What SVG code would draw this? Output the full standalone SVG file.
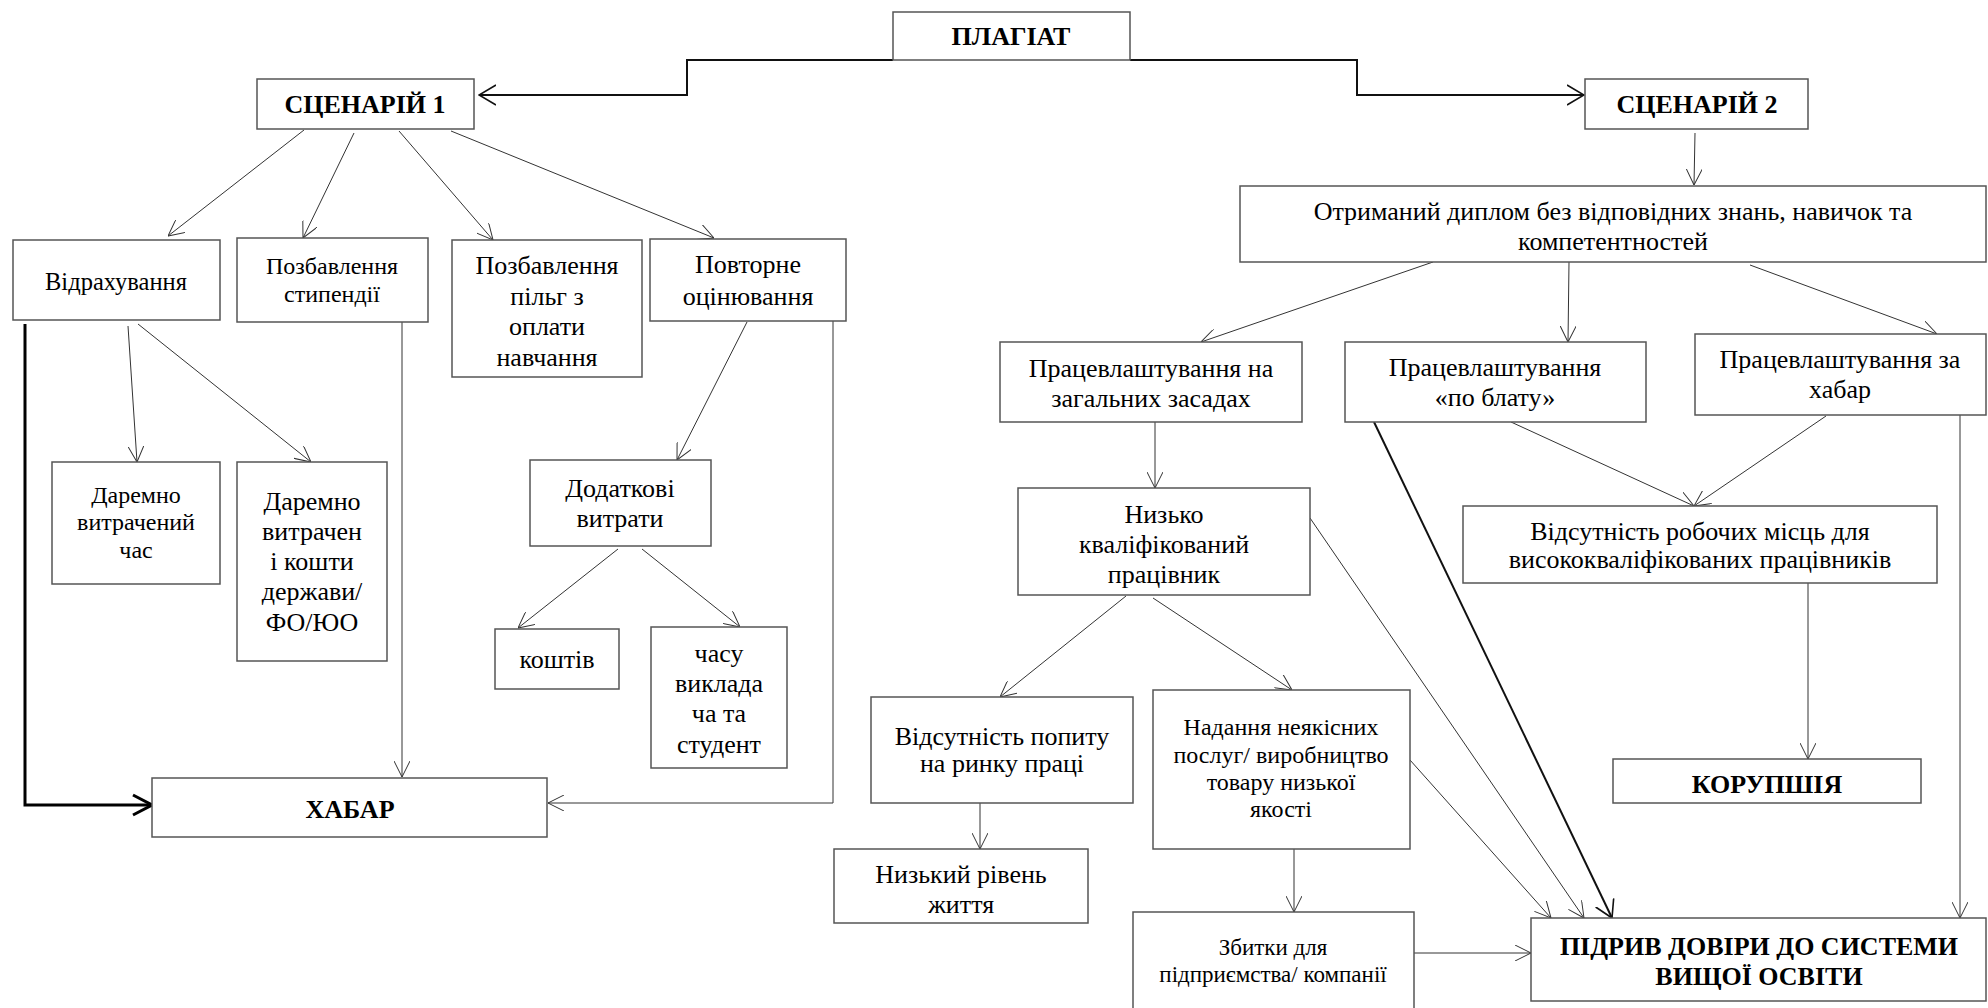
<svg xmlns="http://www.w3.org/2000/svg" width="1988" height="1008" viewBox="0 0 1988 1008" font-family="'Liberation Serif','Times New Roman',serif">
<style>
.box{fill:#fff;stroke:#555;stroke-width:1.5}
text{font-family:"Liberation Serif","Times New Roman",serif;fill:#000;text-anchor:middle;font-size:26px}
.b{font-weight:bold}
.s24{font-size:24px}
.s23{font-size:23px}
.c{fill:none;stroke:#333;stroke-width:1}
.ct{fill:none;stroke:#111;stroke-width:2}
.cb{fill:none;stroke:#000;stroke-width:3}
</style>
<defs>
<marker id="a" viewBox="0 0 16 16" refX="16" refY="8" markerWidth="16" markerHeight="16" markerUnits="userSpaceOnUse" orient="auto">
<path d="M0,0 L16,8 L0,16" fill="none" stroke="#333" stroke-width="1"/>
</marker>
<marker id="a2" viewBox="0 0 18 22" refX="17" refY="11" markerWidth="18" markerHeight="22" markerUnits="userSpaceOnUse" orient="auto">
<path d="M0,1 L17,11 L0,21" fill="none" stroke="#111" stroke-width="1.6"/>
</marker>
<marker id="a3" viewBox="0 0 22 24" refX="20" refY="12" markerWidth="22" markerHeight="24" markerUnits="userSpaceOnUse" orient="auto">
<path d="M1,2 L20,12 L1,22" fill="none" stroke="#000" stroke-width="3"/>
</marker>
</defs>

<g id="connectors">
<polyline class="ct" points="893,60 687,60 687,95 479,95" marker-end="url(#a2)"/>
<polyline class="ct" points="1130,60 1357,60 1357,95 1584,95" marker-end="url(#a2)"/>
<line class="c" x1="304" y1="130" x2="168" y2="236" marker-end="url(#a)"/>
<line class="c" x1="354" y1="133" x2="303" y2="238" marker-end="url(#a)"/>
<line class="c" x1="399" y1="131" x2="493" y2="240" marker-end="url(#a)"/>
<line class="c" x1="451" y1="131" x2="714" y2="238" marker-end="url(#a)"/>
<line class="c" x1="128" y1="326" x2="137" y2="462" marker-end="url(#a)"/>
<line class="c" x1="138" y1="324" x2="311" y2="462" marker-end="url(#a)"/>
<polyline class="cb" points="25,324 25,805 152,805" marker-end="url(#a3)"/>
<line class="c" x1="402" y1="322" x2="402" y2="777" marker-end="url(#a)"/>
<polyline class="c" points="833,321 833,803 548,803" marker-end="url(#a)"/>
<line class="c" x1="747" y1="322" x2="677" y2="460" marker-end="url(#a)"/>
<line class="c" x1="618" y1="549" x2="518" y2="628" marker-end="url(#a)"/>
<line class="c" x1="642" y1="549" x2="740" y2="627" marker-end="url(#a)"/>
<line class="c" x1="1695" y1="133" x2="1694" y2="185" marker-end="url(#a)"/>
<line class="c" x1="1433" y1="262" x2="1201" y2="342" marker-end="url(#a)"/>
<line class="c" x1="1569" y1="262" x2="1568" y2="342" marker-end="url(#a)"/>
<line class="c" x1="1750" y1="265" x2="1937" y2="334" marker-end="url(#a)"/>
<line class="c" x1="1155" y1="422" x2="1155" y2="488" marker-end="url(#a)"/>
<line class="c" x1="1126" y1="596" x2="1000" y2="697" marker-end="url(#a)"/>
<line class="c" x1="1153" y1="598" x2="1292" y2="690" marker-end="url(#a)"/>
<line class="c" x1="980" y1="803" x2="980" y2="849" marker-end="url(#a)"/>
<line class="c" x1="1294" y1="849" x2="1294" y2="912" marker-end="url(#a)"/>
<line class="c" x1="1414" y1="953" x2="1531" y2="953" marker-end="url(#a)"/>
<line class="c" x1="1511" y1="422" x2="1694" y2="506" marker-end="url(#a)"/>
<line class="c" x1="1826" y1="416" x2="1694" y2="506" marker-end="url(#a)"/>
<line class="c" x1="1808" y1="583" x2="1808" y2="759" marker-end="url(#a)"/>
<line class="c" x1="1410" y1="760" x2="1551" y2="918" marker-end="url(#a)"/>
<line class="c" x1="1310" y1="518" x2="1584" y2="918" marker-end="url(#a)"/>
<line class="ct" x1="1374" y1="422" x2="1612" y2="918" marker-end="url(#a2)"/>
<line class="c" x1="1960" y1="415" x2="1960" y2="918" marker-end="url(#a)"/>
</g>

<g id="plagiat"><rect class="box" x="893" y="12" width="237" height="48"/><text class="b" x="1011" y="45">ПЛАГІАТ</text></g>
<g id="scenario1"><rect class="box" x="257" y="79" width="217" height="50"/><text class="b" x="365" y="113">СЦЕНАРІЙ 1</text></g>
<g id="scenario2"><rect class="box" x="1585" y="79" width="223" height="50"/><text class="b" x="1697" y="113">СЦЕНАРІЙ 2</text></g>

<g id="vidrakhuvannia"><rect class="box" x="13" y="240" width="207" height="80"/><text x="116" y="290" style="font-size:24.5px">Відрахування</text></g>
<g id="stypendii"><rect class="box" x="237" y="238" width="191" height="84"/><text class="s24" x="332" y="274">Позбавлення</text><text class="s24" x="332" y="302">стипендії</text></g>
<g id="pilg"><rect class="box" x="452" y="240" width="190" height="137"/><text x="547" y="274">Позбавлення</text><text x="547" y="305">пільг з</text><text x="547" y="335">оплати</text><text x="547" y="366">навчання</text></g>
<g id="povtorne"><rect class="box" x="650" y="239" width="196" height="82"/><text x="748" y="273">Повторне</text><text x="748" y="305">оцінювання</text></g>

<g id="daremno-chas"><rect class="box" x="52" y="462" width="168" height="122"/><text class="s24" x="136" y="503">Даремно</text><text class="s24" x="136" y="530">витрачений</text><text class="s24" x="136" y="558">час</text></g>
<g id="daremno-koshty"><rect class="box" x="237" y="462" width="150" height="199"/><text x="312" y="510">Даремно</text><text x="312" y="540">витрачен</text><text x="312" y="570">і кошти</text><text x="312" y="600">держави/</text><text x="312" y="631">ФО/ЮО</text></g>
<g id="dodatkovi"><rect class="box" x="530" y="460" width="181" height="86"/><text x="620" y="497">Додаткові</text><text x="620" y="527">витрати</text></g>
<g id="koshtiv"><rect class="box" x="495" y="629" width="124" height="60"/><text x="557" y="668">коштів</text></g>
<g id="chasu"><rect class="box" x="651" y="627" width="136" height="141"/><text x="719" y="662">часу</text><text x="719" y="692">виклада</text><text x="719" y="722">ча та</text><text x="719" y="753">студент</text></g>
<g id="khabar"><rect class="box" x="152" y="778" width="395" height="59"/><text class="b" x="350" y="818">ХАБАР</text></g>

<g id="dyplom"><rect class="box" x="1240" y="186" width="746" height="76"/><text x="1613" y="220">Отриманий диплом без відповідних знань, навичок та</text><text x="1613" y="250">компетентностей</text></g>
<g id="zagalni"><rect class="box" x="1000" y="342" width="302" height="80"/><text x="1151" y="377">Працевлаштування на</text><text x="1151" y="407">загальних засадах</text></g>
<g id="blat"><rect class="box" x="1345" y="342" width="301" height="80"/><text x="1495" y="376">Працевлаштування</text><text x="1495" y="406">«по блату»</text></g>
<g id="za-khabar"><rect class="box" x="1695" y="334" width="291" height="81"/><text x="1840" y="368">Працевлаштування за</text><text x="1840" y="398">хабар</text></g>
<g id="nyzko"><rect class="box" x="1018" y="488" width="292" height="107"/><text x="1164" y="523">Низько</text><text x="1164" y="553">кваліфікований</text><text x="1164" y="583">працівник</text></g>
<g id="robochi-mistsia"><rect class="box" x="1463" y="506" width="474" height="77"/><text x="1700" y="540">Відсутність робочих місць для</text><text x="1700" y="568">висококваліфікованих працівників</text></g>
<g id="popyt"><rect class="box" x="871" y="697" width="262" height="106"/><text x="1002" y="745">Відсутність попиту</text><text x="1002" y="772">на ринку праці</text></g>
<g id="nadannia"><rect class="box" x="1153" y="690" width="257" height="159"/><text class="s24" x="1281" y="735">Надання неякісних</text><text class="s24" x="1281" y="763">послуг/ виробництво</text><text class="s24" x="1281" y="790">товару низької</text><text class="s24" x="1281" y="817">якості</text></g>
<g id="koruptsiia"><rect class="box" x="1613" y="759" width="308" height="44"/><text class="b" x="1767" y="793">КОРУПШІЯ</text></g>
<g id="riven-zhyttia"><rect class="box" x="834" y="849" width="254" height="74"/><text x="961" y="883">Низький рівень</text><text x="961" y="913">життя</text></g>
<g id="zbytky"><rect class="box" x="1133" y="912" width="281" height="100"/><text class="s23" x="1273" y="955">Збитки для</text><text class="s23" x="1273" y="982">підприємства/ компанії</text></g>
<g id="pidryv"><rect class="box" x="1531" y="918" width="455" height="83"/><text class="b" x="1759" y="955">ПІДРИВ ДОВІРИ ДО СИСТЕМИ</text><text class="b" x="1759" y="985">ВИЩОЇ ОСВІТИ</text></g>
</svg>
